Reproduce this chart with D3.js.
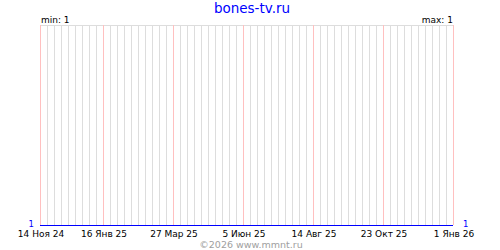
<!DOCTYPE html>
<html>
<head>
<meta charset="utf-8">
<script src="https://cdn.jsdelivr.net/npm/d3@7"></script>
<style>
    body { margin: 0; background: #fff; }
    text { font-family: "DejaVu Sans", sans-serif; }
</style>
</head>
<body>
<svg id="chart" width="500" height="250"></svg>
<script>
//  Data ---
var siteName = "bones-tv.ru";
var pointDates = ["2024-11-14", "2025-01-01", "2025-06-01", "2026-01-01"];
var pointValues = [1, 1, 1, 1];
var tickDates = ["2024-11-14", "2025-01-16", "2025-03-27", "2025-06-05", "2025-08-14", "2025-10-23", "2026-01-01"];
var footerText = "\u00a92026 www.mmnt.ru";

var ruLocale = d3.timeFormatLocale({
    dateTime: "%A, %e %B %Y г. %X", date: "%d.%m.%Y", time: "%H:%M:%S",
    periods: ["AM", "PM"],
    days: ["воскресенье", "понедельник", "вторник", "среда", "четверг", "пятница", "суббота"],
    shortDays: ["вс", "пн", "вт", "ср", "чт", "пт", "сб"],
    months: ["января", "февраля", "марта", "апреля", "мая", "июня", "июля", "августа", "сентября", "октября", "ноября", "декабря"],
    shortMonths: ["Янв", "Фев", "Мар", "Апр", "Май", "Июн", "Июл", "Авг", "Сен", "Окт", "Ноя", "Дек"]
});
var fmt = ruLocale.utcFormat("%-d %b %y");
var parse = d3.utcParse("%Y-%m-%d");

var margin = { top: 25, right: 47, bottom: 25, left: 40 },
    width = 500 - margin.left - margin.right,
    height = 250 - margin.top - margin.bottom;

var data = pointDates.map(function (d, i) { return { date: parse(d), value: pointValues[i] }; });
var ticks = tickDates.map(parse);
var minVal = d3.min(pointValues), maxVal = d3.max(pointValues);

var x = d3.scaleUtc()
    .domain([ticks[0], ticks[ticks.length - 1]])
    .range([margin.left, margin.left + width]);
var y = d3.scaleLinear()
    .domain([minVal, maxVal === minVal ? minVal + 1 : maxVal])
    .range([margin.top + height, margin.top]);

var svg = d3.select("#chart");
var px = function (v) { return Math.round(v) + 0.5; };

//  Grid (weekly, Thursdays) ---
var weeks = d3.utcThursday.range(ticks[0], d3.utcDay.offset(ticks[ticks.length - 1], 1));
var grid = svg.append("g").attr("shape-rendering", "crispEdges");
grid.append("line")
    .attr("x1", x.range()[0]).attr("x2", x.range()[1] + 1)
    .attr("y1", px(margin.top)).attr("y2", px(margin.top))
    .attr("stroke", "#dddddd");
grid.selectAll(".week").data(weeks).enter().append("line")
    .attr("class", "week")
    .attr("x1", function (d) { return px(x(d)); })
    .attr("x2", function (d) { return px(x(d)); })
    .attr("y1", margin.top).attr("y2", margin.top + height)
    .attr("stroke", function (d) {
        return ticks.some(function (t) { return +t === +d; }) ? "#ffc0c0" : "#dddddd";
    });

//  Line ---
svg.append("path")
    .datum(data)
    .attr("fill", "none")
    .attr("stroke", "#0000ff")
    .attr("shape-rendering", "crispEdges")
    .attr("d", d3.line()
        .x(function (d) { return x(d.date); })
        .y(function (d) { return px(y(d.value)); }));

//  Axis labels ---
svg.selectAll(".tick").data(ticks).enter().append("text")
    .attr("class", "tick")
    .attr("x", function (d) { return x(d) + 1; })
    .attr("y", margin.top + height + 12)
    .attr("text-anchor", "middle")
    .style("font-size", "9px")
    .text(fmt);

svg.append("text")
    .attr("x", margin.left - 6).attr("y", 227)
    .attr("text-anchor", "end").attr("fill", "#0000ff")
    .style("font-size", "8.5px")
    .text(pointValues[0]);
svg.append("text")
    .attr("x", x.range()[1] + 10).attr("y", 227)
    .attr("text-anchor", "start").attr("fill", "#0000ff")
    .style("font-size", "8.5px")
    .text(pointValues[pointValues.length - 1]);

//  Titles ---
svg.append("text")
    .attr("x", 252).attr("y", 12.5)
    .attr("text-anchor", "middle").attr("fill", "#0000ff")
    .style("font-size", "13.5px")
    .text(siteName);
svg.append("text")
    .attr("x", margin.left + 1).attr("y", 23)
    .style("font-size", "9px")
    .text("min: " + minVal);
svg.append("text")
    .attr("x", x.range()[1]).attr("y", 23)
    .attr("text-anchor", "end")
    .style("font-size", "9px")
    .text("max: " + maxVal);
svg.append("text")
    .attr("x", 251).attr("y", 248)
    .attr("text-anchor", "middle").attr("fill", "#a0a0a0")
    .style("font-size", "9.5px")
    .text(footerText);
</script>
</body>
</html>
